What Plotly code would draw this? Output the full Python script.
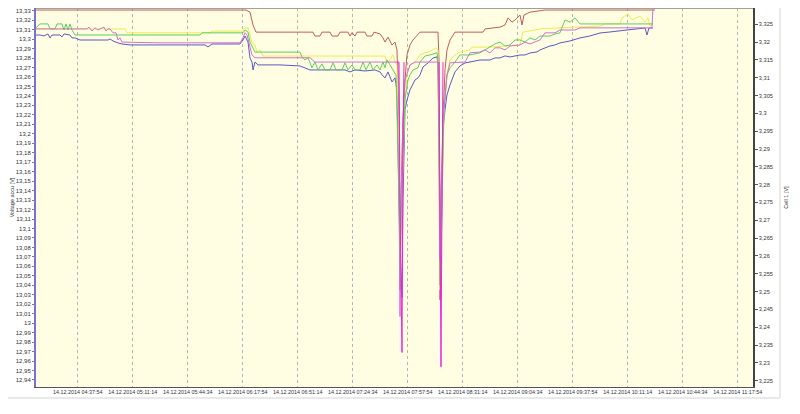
import plotly.graph_objects as go

DATE = "2014-12-14 "

# ---- Voltage accu (left axis) ----
accu_t = ["04:12:38","04:15:03","04:17:29","04:19:54","04:21:07","04:22:20","04:27:11","04:28:23","04:29:36","04:33:14",
          "04:34:27","04:36:16","04:39:18","04:56:16","04:57:29","04:59:18","05:02:20","05:04:45","05:09:36","05:55:03",
          "05:56:53","05:59:18","06:16:16","06:18:05","06:19:18","06:21:07","06:22:20","06:23:33","06:24:09","06:25:22",
          "06:27:11","06:40:31","06:52:38","06:55:40","06:58:42","07:19:54","07:22:56","07:25:58","07:32:02","07:38:05",
          "07:41:07","07:42:56","07:44:09","07:45:58","07:47:11","07:48:23","07:50:13","07:51:25","07:52:02","07:53:14",
          "07:54:27","07:55:03","07:56:16","07:57:29","07:59:18","08:01:07","08:02:20","08:04:09","08:05:22","08:07:11",
          "08:10:13","08:13:14","08:15:40","08:16:16","08:16:53","08:17:29","08:18:05","08:18:42","08:19:18","08:20:31",
          "08:21:43","08:23:33","08:25:22","08:26:34","08:29:36","08:32:38","08:35:40","08:41:43","08:47:47","08:50:49",
          "08:53:51","08:56:53","08:59:54","09:05:58","09:09:00","09:12:02","09:16:16","09:18:05","09:21:07","09:24:09",
          "09:27:11","09:30:13","09:36:16","09:42:20","09:48:23","09:54:27","10:00:31","10:06:34","10:12:38","10:18:42",
          "10:21:43","10:22:56","10:24:09","10:26:34"]
accu_v = [13.3043,13.3043,13.3033,13.3054,13.3012,13.3043,13.3043,13.3022,13.3054,13.3043,
          13.3012,13.3012,13.2990,13.2990,13.3001,13.2980,13.2959,13.2948,13.2938,13.2938,
          13.2917,13.2948,13.2948,13.2990,13.3033,13.2969,13.2801,13.2758,13.2674,13.2758,
          13.2727,13.2727,13.2716,13.2695,13.2674,13.2674,13.2653,13.2674,13.2663,13.2674,
          13.2653,13.2611,13.2590,13.2653,13.2590,13.2547,13.2590,13.2463,13.1830,13.0775,
          13.0269,13.1302,13.2252,13.2357,13.2463,13.2537,13.2568,13.2590,13.2621,13.2706,
          13.2748,13.2801,13.2811,13.2727,13.1830,13.1091,13.0617,13.1302,13.2041,13.2252,
          13.2410,13.2516,13.2590,13.2653,13.2716,13.2748,13.2758,13.2779,13.2779,13.2801,
          13.2801,13.2822,13.2811,13.2832,13.2832,13.2853,13.2864,13.2885,13.2906,13.2927,
          13.2938,13.2959,13.2980,13.3012,13.3033,13.3064,13.3075,13.3085,13.3096,13.3106,
          13.3117,13.3043,13.3117,13.3117]

# ---- Cell series (right axis) ----
brown_t = ["04:12:38","06:19:54","06:22:20","06:24:09","06:25:58","07:00:31","07:01:43","07:04:45","07:05:58","07:10:49",
           "07:12:02","07:15:40","07:16:53","07:21:43","07:22:56","07:24:09","07:25:58","07:27:11","07:32:02","07:33:14",
           "07:36:16","07:37:29","07:41:07","07:42:56","07:44:09","07:45:58","07:48:23","07:50:13","07:51:25","07:52:38",
           "07:53:14","07:53:51","07:55:03","07:56:16","07:57:29","07:59:18","08:01:07","08:02:20","08:04:09","08:05:22",
           "08:16:16","08:16:53","08:17:29","08:18:05","08:19:18","08:20:31","08:21:43","08:23:33","08:25:22","08:26:34",
           "08:43:33","08:44:45","08:53:51","08:56:53","08:58:42","09:01:07","09:02:56","09:05:58","09:07:11","09:08:23",
           "09:12:02","09:21:07","10:27:47"]
brown_v = [3.3290,3.3290,3.3284,3.3248,3.3228,3.3228,3.3217,3.3217,3.3228,3.3228,
           3.3217,3.3217,3.3228,3.3228,3.3217,3.3226,3.3217,3.3228,3.3228,3.3217,
           3.3217,3.3228,3.3223,3.3212,3.3200,3.3214,3.3192,3.3200,3.3178,3.2982,
           3.2505,3.2758,3.2982,3.3094,3.3164,3.3192,3.3206,3.3212,3.3220,3.3228,
           3.3228,3.3150,3.2477,3.2618,3.2982,3.3122,3.3178,3.3206,3.3220,3.3228,
           3.3228,3.3237,3.3242,3.3248,3.3268,3.3256,3.3262,3.3276,3.3248,3.3276,
           3.3284,3.3290,3.3290]

yellow_t = ["04:12:38","05:06:34","05:07:47","05:58:05","05:59:18","06:18:05","06:19:18","06:21:07","06:22:20","06:23:33",
            "06:25:22","06:26:34","06:28:23","06:30:13","07:44:09","07:45:22","07:47:11","07:49:00","07:50:13","07:51:25",
            "07:52:38","07:53:14","07:54:27","07:56:16","07:57:29","07:59:18","08:02:20","08:04:09","08:05:22","08:08:23",
            "08:10:13","08:13:14","08:15:03","08:16:16","08:16:53","08:17:29","08:18:42","08:19:54","08:21:43","08:23:33",
            "08:26:34","08:29:36","08:35:40","08:36:53","08:47:47","09:05:58","09:07:47","09:15:03","09:18:05","09:30:13",
            "09:54:27","09:57:29","10:06:34","10:07:47","10:11:25","10:13:51","10:18:42","10:21:43","10:23:33","10:24:45",
            "10:26:34"]
yellow_v = [3.3237,3.3237,3.3226,3.3226,3.3231,3.3231,3.3240,3.3240,3.3220,3.3198,
            3.3192,3.3172,3.3178,3.3161,3.3161,3.3144,3.3150,3.3164,3.3144,3.3136,
            3.2898,3.2533,3.2758,3.3038,3.3108,3.3136,3.3144,3.3156,3.3164,3.3170,
            3.3172,3.3178,3.3184,3.3178,3.2898,3.2505,3.2758,3.3010,3.3108,3.3150,
            3.3164,3.3172,3.3178,3.3186,3.3186,3.3192,3.3228,3.3234,3.3237,3.3240,
            3.3245,3.3251,3.3251,3.3268,3.3279,3.3262,3.3273,3.3256,3.3268,3.3245,
            3.3256]

green_t = ["04:12:38","04:15:03","04:19:54","04:21:07","04:24:09","04:25:22","04:28:23","04:29:36","04:30:49","04:32:02",
           "04:33:14","04:34:27","04:36:16","05:52:02","05:53:14","06:18:05","06:19:18","06:21:07","06:22:20","06:24:09",
           "06:25:22","06:52:38","06:53:51","06:55:40","06:57:29","06:58:42","06:59:54","07:01:43","07:03:33","07:05:58",
           "07:07:47","07:10:49","07:12:38","07:14:27","07:18:05","07:19:54","07:21:43","07:24:09","07:25:58","07:29:00",
           "07:30:49","07:32:38","07:35:03","07:36:53","07:39:18","07:41:07","07:42:56","07:44:09","07:45:22","07:47:11",
           "07:49:00","07:50:49","07:52:02","07:53:14","07:54:27","07:56:16","07:58:05","07:59:18","08:01:07","08:04:09",
           "08:05:22","08:08:23","08:11:25","08:15:40","08:16:16","08:16:53","08:17:29","08:18:42","08:19:54","08:21:43",
           "08:23:33","08:26:34","08:29:36","08:35:40","08:41:43","08:44:45","08:47:47","08:50:49","08:53:51","08:56:53",
           "08:59:54","09:02:56","09:05:58","09:09:00","09:12:02","09:15:03","09:18:05","09:24:09","09:27:11","09:30:13",
           "09:33:14","09:36:16","09:39:18","09:42:20","10:26:34"]
green_v = [3.3240,3.3251,3.3251,3.3237,3.3237,3.3251,3.3251,3.3234,3.3251,3.3234,
           3.3251,3.3234,3.3220,3.3220,3.3226,3.3226,3.3234,3.3228,3.3200,3.3184,
           3.3172,3.3172,3.3158,3.3150,3.3156,3.3142,3.3128,3.3144,3.3122,3.3139,
           3.3122,3.3122,3.3142,3.3122,3.3122,3.3142,3.3122,3.3136,3.3122,3.3122,
           3.3144,3.3122,3.3144,3.3122,3.3136,3.3122,3.3144,3.3128,3.3150,3.3136,
           3.3122,3.3108,3.2898,3.2533,3.2814,3.3038,3.3094,3.3108,3.3122,3.3128,
           3.3144,3.3161,3.3164,3.3170,3.3150,3.2898,3.2519,3.2758,3.3010,3.3108,
           3.3128,3.3144,3.3164,3.3164,3.3170,3.3178,3.3186,3.3195,3.3200,3.3189,
           3.3192,3.3206,3.3206,3.3200,3.3212,3.3206,3.3217,3.3217,3.3223,3.3226,
           3.3262,3.3256,3.3268,3.3251,3.3251]

pink_t = ["04:12:38","04:43:33","04:44:45","04:46:34","04:48:23","04:50:13","04:51:25","04:53:51","04:55:03","04:56:16",
          "04:57:29","04:59:18","05:01:07","05:02:20","05:03:33","05:04:45","05:27:47","06:16:16","06:18:05","06:19:18",
          "06:20:31","06:22:20","06:23:33","06:25:22","06:58:42","07:01:43","07:52:02","07:52:38","07:53:14","07:53:51",
          "07:55:03","07:56:16","07:59:18","08:02:20","08:16:16","08:16:53","08:17:29","08:18:05","08:19:18","08:21:43",
          "08:23:33","08:32:38","08:35:40","08:41:43","08:44:45","08:47:47","08:50:49","08:53:51","08:56:53","08:59:54",
          "09:05:58","09:09:00","09:12:02","09:18:05","09:19:54","09:21:07","09:27:11","09:30:13","09:39:18","09:42:20",
          "10:25:58","10:26:34"]
pink_v = [3.3237,3.3237,3.3242,3.3231,3.3240,3.3234,3.3237,3.3242,3.3231,3.3237,
          3.3237,3.3226,3.3226,3.3206,3.3212,3.3200,3.3198,3.3198,3.3212,3.3226,
          3.3220,3.3184,3.3164,3.3156,3.3156,3.3144,3.3144,3.3038,3.2430,3.2758,
          3.2982,3.3094,3.3136,3.3144,3.3144,3.3038,3.2589,3.2758,3.2982,3.3108,
          3.3142,3.3144,3.3170,3.3172,3.3178,3.3170,3.3184,3.3184,3.3178,3.3189,
          3.3192,3.3200,3.3195,3.3206,3.3217,3.3226,3.3226,3.3234,3.3234,3.3240,
          3.3240,3.3300]

magenta_t = ["07:51:25","07:52:38","07:53:14","07:54:27","07:55:03","07:55:40", None,
             "08:16:53","08:17:29","08:18:05","08:18:42","08:19:18"]
magenta_v = [3.3144,3.3144,3.2758,3.2329,3.2898,3.3144, None,
             3.3144,3.2758,3.2289,3.2758,3.3144]

X_START = "04:12:38"
X_END = "11:27:11"
TICK0 = "04:37:54"


def ts(lst):
    return [DATE + t if t is not None else None for t in lst]


fig = go.Figure()

series = [
    ("Cell 2", brown_t, brown_v, "#bf5f55", "y2"),
    ("Cell 3", yellow_t, yellow_v, "#ecec50", "y2"),
    ("Cell 4", green_t, green_v, "#5ccf5c", "y2"),
    ("Cell 1", pink_t, pink_v, "#d070d4", "y2"),
    ("Voltage accu", accu_t, accu_v, "#5a58c6", "y"),
    ("Cell 1 min", magenta_t, magenta_v, "#ee22dd", "y2"),
]
for name, t, v, c, ax in series:
    fig.add_trace(go.Scatter(x=ts(t), y=v, mode="lines", name=name, yaxis=ax,
                             line=dict(color=c, width=1), connectgaps=False))

# The page body adds an 8px margin, so the margins below compensate for it.
fig.update_layout(
    width=800, height=414,
    margin=dict(l=28, r=55, t=0, b=35, pad=0, autoexpand=False),
    paper_bgcolor="white",
    plot_bgcolor="#fffde2",
    showlegend=False,
    separators=", ",
    font=dict(family="Liberation Sans, Arial, sans-serif", color="#333333"),
    xaxis=dict(
        type="date",
        range=[DATE + X_START, DATE + X_END],
        tick0=DATE + TICK0, dtick=2000000,
        tickformat="%d.%m.%Y %H:%M:%S",
        tickfont=dict(size=5.4, color="#333333"),
        showgrid=True, gridcolor="#b5b5b5", griddash="dot", gridwidth=1,
        showline=True, linecolor="#555555", linewidth=1,
        ticks="", zeroline=False, ticklabeloverflow="allow",
    ),
    yaxis=dict(
        range=[12.9326, 13.3328],
        tick0=13, dtick=0.01,
        showgrid=False, zeroline=False,
        showline=True, linecolor="#7873c8", linewidth=2,
        ticks="outside", ticklen=2, tickcolor="#7873c8", tickwidth=1,
        tickfont=dict(size=6, color="#333333"), ticklabeloverflow="allow",
        title=dict(text="Voltage accu [V]", font=dict(size=5.5, color="#333333"), standoff=1),
    ),
    yaxis2=dict(
        range=[3.22323, 3.32957],
        overlaying="y", side="right",
        tick0=3.225, dtick=0.005,
        showgrid=False, zeroline=False,
        showline=True, linecolor="#444444", linewidth=1.5,
        ticks="outside", ticklen=3, tickcolor="#555555", tickwidth=1,
        tickfont=dict(size=5.6, color="#333333"), ticklabeloverflow="allow",
        title=dict(text="Cell 1 [V]", font=dict(size=5.5, color="#333333"), standoff=12),
    ),
    shapes=[
        dict(type="line", xref="paper", yref="paper", x0=0, x1=1, y0=1, y1=1,
             line=dict(color="#a0a0a0", width=2)),
        dict(type="line", xref="paper", yref="paper", x0=-0.039, x1=1.0377, y0=-0.029, y1=-0.029,
             line=dict(color="#e2e2e2", width=1.5)),
        dict(type="line", xref="paper", yref="paper", x0=1.0377, x1=1.0377, y0=-0.029, y1=1.003,
             line=dict(color="#e2e2e2", width=1.5)),
    ],
)

fig.write_html("out.html")
